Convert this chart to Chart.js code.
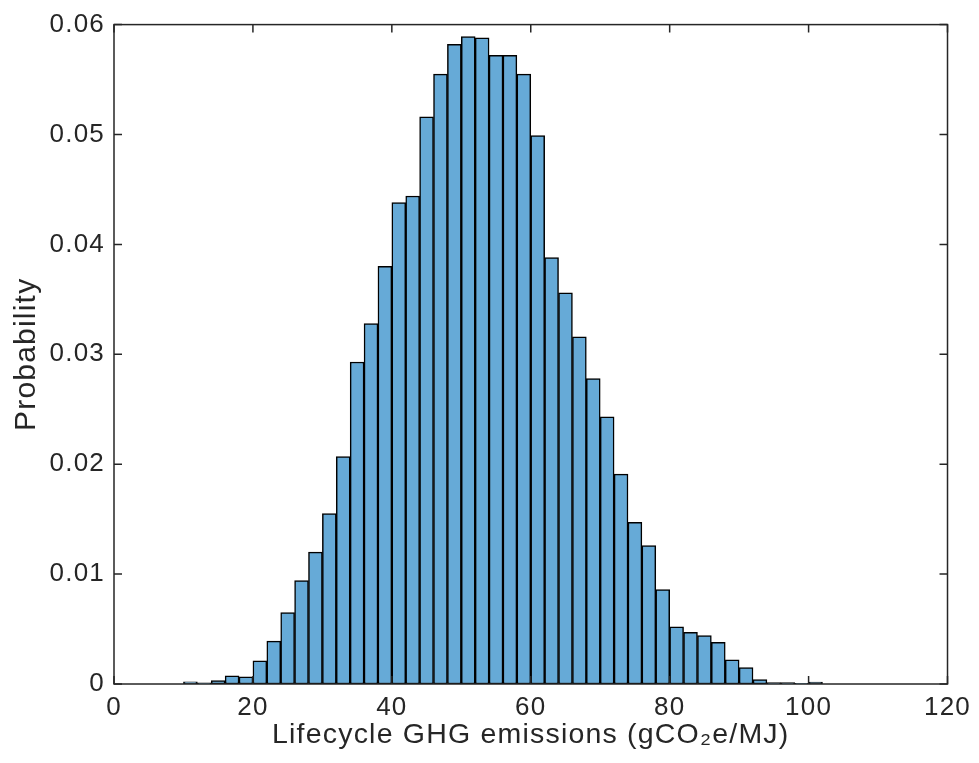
<!DOCTYPE html>
<html>
<head>
<meta charset="utf-8">
<script src="https://cdn.jsdelivr.net/npm/chart.js@4/dist/chart.umd.min.js"></script>
<style>
  html, body { margin: 0; padding: 0; background: #ffffff; }
  #wrap { width: 979px; height: 763px; position: relative; }
</style>
</head>
<body>
<div id="wrap"><canvas id="c" width="979" height="763"></canvas></div>
<script>
// Bin centres (gCO2e/MJ), bins of width 2 from 10 to 102
const binCenters = [11, 13, 15, 17, 19, 21, 23, 25, 27, 29, 31, 33, 35, 37, 39, 41, 43, 45, 47, 49,
                    51, 53, 55, 57, 59, 61, 63, 65, 67, 69, 71, 73, 75, 77, 79, 81, 83, 85, 87, 89,
                    91, 93, 95, 97, 99, 101];
// Probability per bin
const probabilities = [0.0002, 0.0001, 0.0003, 0.00075, 0.00066, 0.0021, 0.0039, 0.0065, 0.0094, 0.0120,
                       0.0155, 0.0207, 0.0293, 0.0328, 0.0380, 0.0438, 0.0444, 0.0516, 0.0555, 0.0582,
                       0.0589, 0.0588, 0.0572, 0.0572, 0.0555, 0.0499, 0.0388, 0.0356, 0.0316, 0.0278,
                       0.0243, 0.0191, 0.0147, 0.0126, 0.0086, 0.0052, 0.0047, 0.0044, 0.0038, 0.0022,
                       0.0015, 0.0004, 0.00012, 0.00012, 0.00006, 0.00018];
const xTickValues = [0, 20, 40, 60, 80, 100, 120];
const yTickValues = [0, 0.01, 0.02, 0.03, 0.04, 0.05, 0.06];
const xTitle = 'Lifecycle GHG emissions (gCO\u2082e/MJ)';
const yTitle = 'Probability';

const points = binCenters.map((c, i) => ({ x: c, y: probabilities[i] }));
const axisColor = '#262626';
const fontFamily = 'Liberation Sans, Arial, Helvetica, sans-serif';

const spacingPlugin = {
  id: 'letterSpacing',
  beforeLayout(chart) { chart.ctx.letterSpacing = '1.2px'; },
  beforeDraw(chart) { chart.ctx.letterSpacing = '1.2px'; }
};

const boxPlugin = {
  id: 'matlabBox',
  afterDatasetsDraw(chart) {
    const { ctx, chartArea: { left, right, top, bottom }, scales: { x, y } } = chart;
    const tl = 8;
    ctx.save();
    ctx.strokeStyle = axisColor;
    ctx.lineWidth = 1.5;
    ctx.beginPath();
    x.ticks.forEach(t => {
      const px = x.getPixelForValue(t.value);
      ctx.moveTo(px, bottom); ctx.lineTo(px, bottom - tl);
      ctx.moveTo(px, top); ctx.lineTo(px, top + tl);
    });
    y.ticks.forEach(t => {
      const py = y.getPixelForValue(t.value);
      ctx.moveTo(left, py); ctx.lineTo(left + tl, py);
      ctx.moveTo(right, py); ctx.lineTo(right - tl, py);
    });
    ctx.stroke();
    ctx.strokeRect(left, top, right - left, bottom - top);
    ctx.restore();
  }
};

new Chart(document.getElementById('c'), {
  type: 'bar',
  data: {
    datasets: [{
      data: points,
      backgroundColor: '#66aad7',
      borderColor: '#000000',
      borderWidth: 1.5,
      borderSkipped: false,
      barPercentage: 1.0,
      categoryPercentage: 1.0
    }]
  },
  options: {
    responsive: false,
    animation: false,
    devicePixelRatio: 1,
    layout: { padding: { left: 0, right: 29, top: 24, bottom: 0 } },
    plugins: { legend: { display: false }, tooltip: { enabled: false } },
    scales: {
      x: {
        type: 'linear',
        min: 0, max: 120,
        offset: false,
        afterBuildTicks: s => { s.ticks = xTickValues.map(v => ({ value: v })); },
        afterFit: s => { s.height = 79; },
        grid: { display: false, drawTicks: false, offset: false },
        border: { display: false },
        ticks: { padding: 8, color: axisColor, maxRotation: 0, font: { family: fontFamily, size: 26 } },
        title: { display: true, text: xTitle, color: axisColor, padding: { top: 0, bottom: 11 },
                 font: { family: fontFamily, size: 28.5 } }
      },
      y: {
        min: 0, max: 0.06,
        afterBuildTicks: s => { s.ticks = yTickValues.map(v => ({ value: v })); },
        afterFit: s => { s.width = 114; },
        grid: { display: false, drawTicks: false },
        border: { display: false },
        ticks: { padding: 9, color: axisColor, font: { family: fontFamily, size: 26 },
                 callback: v => String(Math.round(v * 100) / 100) },
        title: { display: true, text: yTitle, color: axisColor, padding: { top: 9, bottom: 0 },
                 font: { family: fontFamily, size: 30 } }
      }
    }
  },
  plugins: [spacingPlugin, boxPlugin]
});
</script>
</body>
</html>
